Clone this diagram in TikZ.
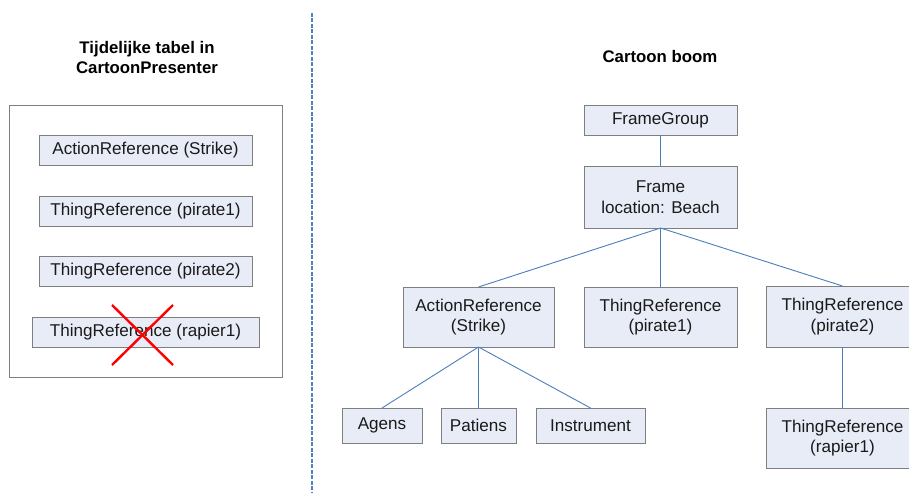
\documentclass[tikz,border=0pt]{standalone}
\usepackage{fontspec}
\setmainfont{Liberation Sans}
\begin{document}
\begin{tikzpicture}[x=1pt,y=-1pt,
  every node/.style={inner sep=0pt, outer sep=0pt},
  refbox/.style={draw=boxline, fill=boxfill, line width=0.9pt, align=center,
    text=textgray, font=\fontsize{17.1}{20.5}\selectfont},
  panelbox/.style={draw=boxline, fill=white, line width=0.9pt},
  heading/.style={align=center, font=\fontsize{16.8}{20}\selectfont\bfseries},
  link/.style={draw=linkblue, line width=0.9pt},
  cross/.style={draw=red, line width=2.4pt}]
\definecolor{boxfill}{HTML}{E8ECF7}
\definecolor{boxline}{HTML}{7F7F7F}
\definecolor{textgray}{HTML}{1A1A1A}
\definecolor{linkblue}{HTML}{4A7EBB}
\definecolor{sepblue}{HTML}{4F81BD}
\useasboundingbox (0,0) rectangle (909,494);
\clip (0,0) rectangle (909,494);

% separator between the two halves
\coordinate (sepTop) at (312,13);
\coordinate (sepBot) at (312,492);
\draw[sepblue, line width=1.3pt, dash pattern=on 4pt off 1.5pt] (sepTop) -- (sepBot);

% left half: temporary table
\node[heading] (lefttitle) at (147,57.5) {Tijdelijke tabel in\\CartoonPresenter};
\node[panelbox, minimum width=273pt, minimum height=272pt] (panel) at (145.5,241) {};
\node[refbox, minimum width=213pt, minimum height=30pt] (t1) at (145.5,150) {ActionReference (Strike)};
\node[refbox, minimum width=213pt, minimum height=30pt] (t2) at (145.5,211) {ThingReference (pirate1)};
\node[refbox, minimum width=213pt, minimum height=30pt] (t3) at (145.5,271.5) {ThingReference (pirate2)};
\node[refbox, minimum width=227pt, minimum height=30pt] (t4) at (145.5,332) {ThingReference (rapier1)};

% red cross over the removed entry
\coordinate (xa) at (112,305);
\coordinate (xb) at (173,365);
\coordinate (xc) at (173,305);
\coordinate (xd) at (112,365);
\draw[cross] (xa) -- (xb);
\draw[cross] (xc) -- (xd);

% right half: cartoon tree
\node[heading] (righttitle) at (660,56) {Cartoon boom};
\node[refbox, minimum width=153pt, minimum height=30pt] (fg) at (660.5,120) {FrameGroup};
\node[refbox, minimum width=153pt, minimum height=62pt] (frame) at (660.5,197) {Frame\\location: Beach};
\node[refbox, minimum width=151pt, minimum height=60pt] (ar) at (478.5,317) {ActionReference\\(Strike)};
\node[refbox, minimum width=153pt, minimum height=60pt] (p1) at (660.5,317) {ThingReference\\(pirate1)};
\node[refbox, minimum width=153pt, minimum height=61pt] (p2) at (842.5,316.5) {ThingReference\\(pirate2)};
\node[refbox, minimum width=153pt, minimum height=60pt] (r1) at (842.5,438) {ThingReference\\(rapier1)};
\node[refbox, minimum width=80pt, minimum height=35pt] (agens) at (382,425.5) {Agens};
\node[refbox, minimum width=75pt, minimum height=35pt] (patiens) at (478.5,425.5) {Patiens};
\node[refbox, minimum width=109pt, minimum height=35pt] (instr) at (590.5,425.5) {Instrument};

\draw[link] (fg.south) -- (frame.north);
\draw[link] (frame.south) -- (ar.north);
\draw[link] (frame.south) -- (p1.north);
\draw[link] (frame.south) -- (p2.north);
\draw[link] (p2.south) -- (r1.north);
\draw[link] (ar.south) -- (agens.north);
\draw[link] (ar.south) -- (patiens.north);
\draw[link] (ar.south) -- (instr.north);
\end{tikzpicture}
\end{document}
